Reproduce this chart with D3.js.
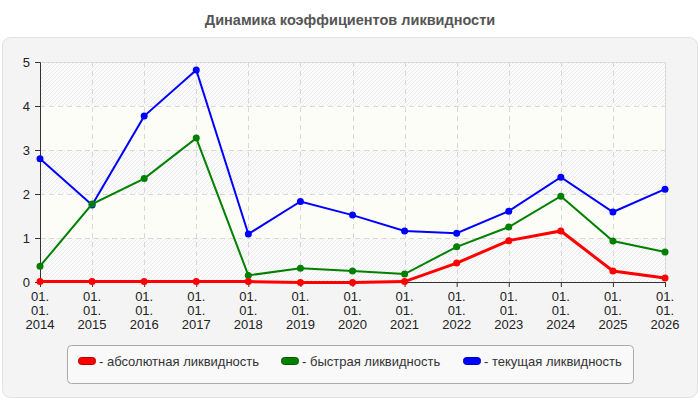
<!DOCTYPE html>
<html>
<head>
<meta charset="utf-8">
<script src="https://cdn.jsdelivr.net/npm/d3@7"></script>
<style>
  body { margin: 0; background: #fff; }
  svg { display: block; font-family: "Liberation Sans", Arial, sans-serif; }
</style>
</head>
<body>
<svg id="chart" width="700" height="400"></svg>
<script>
var years = ["2014", "2015", "2016", "2017", "2018", "2019", "2020", "2021", "2022", "2023", "2024", "2025", "2026"];
var absolute = [0.01, 0.01, 0.01, 0.01, 0.01, -0.01, -0.01, 0.01, 0.43, 0.94, 1.16, 0.25, 0.09];
var quick = [0.36, 1.77, 2.35, 3.27, 0.15, 0.31, 0.25, 0.18, 0.80, 1.25, 1.95, 0.93, 0.68];
var current = [2.80, 1.75, 3.77, 4.82, 1.09, 1.83, 1.52, 1.16, 1.11, 1.61, 2.38, 1.59, 2.11];
var yTicks = [0, 1, 2, 3, 4, 5];

var series = [
    { name: "- абсолютная ликвидность", color: "#ff0000", width: 3, values: absolute },
    { name: "- быстрая ликвидность", color: "#008000", width: 2, values: quick },
    { name: "- текущая ликвидность", color: "#0000ff", width: 2, values: current }
];

var svg = d3.select("#chart");

var plotLeft = 40, plotRight = 665, plotTop = 62, plotBottom = 282;

var x = d3.scalePoint().domain(years).range([plotLeft, plotRight]);
var y = d3.scaleLinear().domain([0, 5]).range([plotBottom, plotTop]);

// hatch pattern for bands
var defs = svg.append("defs");
var pat = defs.append("pattern")
    .attr("id", "hatch")
    .attr("patternUnits", "userSpaceOnUse")
    .attr("width", 4)
    .attr("height", 4);
pat.append("rect").attr("width", 4).attr("height", 4).attr("fill", "#fbfbfb");
pat.append("path")
    .attr("d", "M-1,1 l2,-2 M0,4 l4,-4 M3,5 l2,-2")
    .attr("stroke", "#ebebeb")
    .attr("stroke-width", 1);

// title
svg.append("text")
    .attr("x", 350)
    .attr("y", 25)
    .attr("text-anchor", "middle")
    .attr("font-size", 14.5)
    .attr("font-weight", "bold")
    .attr("fill", "#555")
    .text("Динамика коэффициентов ликвидности");

// outer panel
svg.append("rect")
    .attr("x", 2.5).attr("y", 37.5)
    .attr("width", 695).attr("height", 360)
    .attr("rx", 8)
    .attr("fill", "#f4f4f4")
    .attr("stroke", "#e2e2e2");

// bands
for (var i = 0; i < yTicks.length - 1; i++) {
    svg.append("rect")
        .attr("x", plotLeft)
        .attr("y", y(yTicks[i + 1]))
        .attr("width", plotRight - plotLeft)
        .attr("height", y(yTicks[i]) - y(yTicks[i + 1]))
        .attr("fill", i % 2 === 0 ? "url(#hatch)" : "#fdfdf8");
}

// plot border
svg.append("rect")
    .attr("x", plotLeft + 0.5).attr("y", plotTop + 0.5)
    .attr("width", plotRight - plotLeft).attr("height", plotBottom - plotTop)
    .attr("fill", "none")
    .attr("stroke", "#dcdcdc");

// grid
svg.append("g").selectAll("line")
    .data(yTicks.slice(1, -1))
    .join("line")
    .attr("x1", plotLeft).attr("x2", plotRight)
    .attr("y1", function (d) { return Math.round(y(d)) + 0.5; })
    .attr("y2", function (d) { return Math.round(y(d)) + 0.5; })
    .attr("stroke", "#d8d8d8")
    .attr("stroke-dasharray", "5,4");

svg.append("g").selectAll("line")
    .data(years.slice(1, -1))
    .join("line")
    .attr("x1", function (d) { return Math.round(x(d)) + 0.5; })
    .attr("x2", function (d) { return Math.round(x(d)) + 0.5; })
    .attr("y1", plotTop).attr("y2", plotBottom)
    .attr("stroke", "#d8d8d8")
    .attr("stroke-dasharray", "5,4");

// axes
var yAxis = svg.append("g")
    .attr("transform", "translate(" + plotLeft + ",0)")
    .call(d3.axisLeft(y).tickValues(yTicks).tickFormat(d3.format("d")).tickSize(5).tickPadding(5));
yAxis.select(".domain").attr("stroke", "#333");
yAxis.selectAll(".tick line").attr("stroke", "#333");
yAxis.selectAll("text").attr("font-size", 13).attr("fill", "#222").attr("font-family", "Liberation Sans, Arial, sans-serif");

var xAxis = svg.append("g")
    .attr("transform", "translate(0," + plotBottom + ")")
    .call(d3.axisBottom(x).tickSize(5).tickSizeOuter(0).tickFormat(""));
xAxis.select(".domain").attr("stroke", "#333");
xAxis.selectAll(".tick line").attr("stroke", "#333");

var xl = svg.append("g").selectAll("text")
    .data(years)
    .join("text")
    .attr("text-anchor", "middle")
    .attr("font-size", 13)
    .attr("fill", "#222");
xl.append("tspan").attr("x", function (d) { return x(d); }).attr("y", 301).text("01.");
xl.append("tspan").attr("x", function (d) { return x(d); }).attr("y", 315).text("01.");
xl.append("tspan").attr("x", function (d) { return x(d); }).attr("y", 329).text(function (d) { return d; });

// lines and points, drawn in reverse so red is on top
var line = d3.line()
    .x(function (d, i) { return x(years[i]); })
    .y(function (d) { return y(d); });

series.slice().reverse().forEach(function (s) {
    svg.append("path")
        .attr("d", line(s.values))
        .attr("fill", "none")
        .attr("stroke", s.color)
        .attr("stroke-width", s.width);
    svg.append("g").selectAll("circle")
        .data(s.values)
        .join("circle")
        .attr("cx", function (d, i) { return x(years[i]); })
        .attr("cy", function (d) { return y(d); })
        .attr("r", 3.5)
        .attr("fill", s.color);
});

// legend
svg.append("rect")
    .attr("x", 67.5).attr("y", 345.5)
    .attr("width", 566).attr("height", 38)
    .attr("rx", 4)
    .attr("fill", "#f9f9f9")
    .attr("stroke", "#aaa");

var legendX = [78, 281, 463];
series.forEach(function (s, i) {
    svg.append("rect")
        .attr("x", legendX[i] + 0.5).attr("y", 357.5)
        .attr("width", 17).attr("height", 7)
        .attr("rx", 3)
        .attr("fill", s.color)
        .attr("stroke", d3.color(s.color).darker(1));
    svg.append("text")
        .attr("x", legendX[i] + 21)
        .attr("y", 366)
        .attr("font-size", 13)
        .attr("fill", "#333")
        .text(s.name);
});
</script>
</body>
</html>
